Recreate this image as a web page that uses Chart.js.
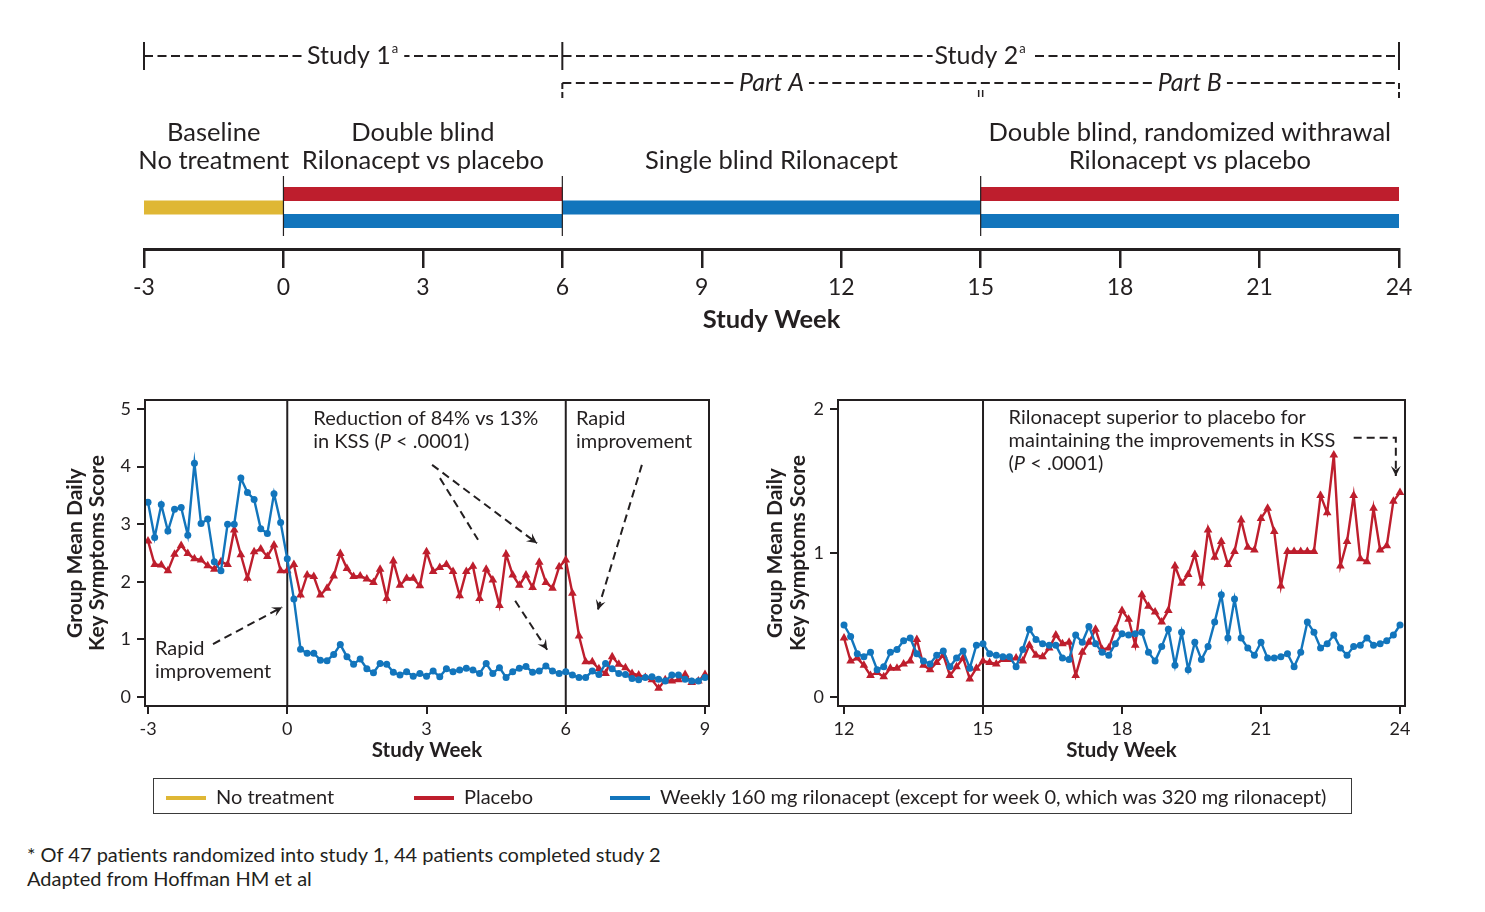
<!DOCTYPE html>
<html>
<head>
<meta charset="utf-8">
<script src="https://cdn.jsdelivr.net/npm/chart.js@4.4.1/dist/chart.umd.min.js"></script>
<style>
  body { margin: 0; background: #fff; width: 1485px; height: 912px; position: relative; overflow: hidden;
         font-family: Lato, "Noto Sans", sans-serif; color: #231f20; }
  .pane { position: absolute; }
  #legend { position: absolute; left: 153px; top: 778px; width: 1197px; height: 34px; border: 1.5px solid #3a3a3a; font-size: 20px; }
  #legend span { position: absolute; top: 0; line-height: 34px; white-space: nowrap; }
  #legend i { display: inline-block; width: 40px; height: 4px; vertical-align: middle; margin-right: 10px; position: relative; top: -1px; }
  #notes { position: absolute; left: 27px; top: 842px; font-size: 20px; line-height: 24px; }
</style>
</head>
<body>

<div class="pane" style="left:0;top:0"><canvas id="timeline" width="1485" height="345"></canvas></div>
<div class="pane" style="left:0;top:380px"><canvas id="chart-left" width="740" height="400"></canvas></div>
<div class="pane" style="left:720px;top:380px"><canvas id="chart-right" width="720" height="400"></canvas></div>

<div id="legend">
  <span style="left:12px"><i style="background:#dfb735"></i>No treatment</span>
  <span style="left:260px"><i style="background:#be1e2d"></i>Placebo</span>
  <span style="left:456px"><i style="background:#1275bc"></i>Weekly 160 mg rilonacept (except for week 0, which was 320 mg rilonacept)</span>
</div>

<div id="notes">
  * Of 47 patients randomized into study 1, 44 patients completed study 2<br>
  Adapted from Hoffman HM et al
</div>

<script>
const INK = '#231f20';
const RED = '#be1e2d';
const BLUE = '#1275bc';
const YELLOW = '#dfb735';

Chart.defaults.font.family = 'Lato, "Noto Sans", sans-serif';
Chart.defaults.color = INK;

/* ---------- timeline ---------- */
const timelineTicks = [-3, 0, 3, 6, 9, 12, 15, 18, 21, 24];
const phaseBounds = [-3, 0, 6, 15, 24];
const phaseLabels = [
  ['Baseline', 'No treatment'],
  ['Double blind', 'Rilonacept vs placebo'],
  ['Single blind Rilonacept'],
  ['Double blind, randomized withrawal', 'Rilonacept vs placebo']
];
const barStart = [-3, 0, 0, 6, 15, 15];
const barEnd   = [0, 6, 6, 15, 24, 24];
const barArm   = ['none', 'placebo', 'rilo', 'rilo', 'placebo', 'rilo'];

/* ---------- daily key symptom scores (weeks -3..9 and 12..24) ---------- */
const leftStartDay = -21;
const leftRilo = [
  3.38, 2.77, 3.34, 2.88, 3.26, 3.29, 2.81, 4.06, 3.01, 3.09, 2.35, 2.19, 3.00, 3.00, 3.80, 3.55, 3.43, 2.92, 2.84, 3.53, 3.03,
  2.40,
  1.70, 0.83, 0.76, 0.76, 0.64, 0.63, 0.74, 0.91, 0.70, 0.57, 0.66, 0.49, 0.42, 0.58, 0.57, 0.43, 0.38, 0.44, 0.36, 0.41, 0.36,
  0.45, 0.35, 0.49, 0.44, 0.47, 0.50, 0.47, 0.41, 0.58, 0.41, 0.51, 0.34, 0.44, 0.50, 0.53, 0.43, 0.45, 0.54, 0.45, 0.41, 0.44,
  0.38, 0.34, 0.34, 0.45, 0.39, 0.58, 0.49, 0.41, 0.39, 0.32, 0.30, 0.34, 0.35, 0.31, 0.28, 0.38, 0.38, 0.31, 0.28, 0.28, 0.34
];
const leftPlacebo = [
  2.71, 2.30, 2.29, 2.19, 2.48, 2.63, 2.49, 2.40, 2.38, 2.28, 2.22, 2.35, 2.30, 2.90, 2.47, 2.06, 2.52, 2.57, 2.44, 2.64, 2.19,
  2.19,
  2.30, 1.77, 2.12, 2.09, 1.77, 1.89, 2.10, 2.49, 2.23, 2.09, 2.10, 2.05, 1.99, 2.22, 1.71, 2.36, 1.94, 2.06, 2.06, 1.93,
  2.52, 2.18, 2.25, 2.30, 2.18, 1.76, 2.18, 2.27, 1.71, 2.22, 2.03, 1.59, 2.48, 2.12, 1.94, 2.12, 1.90, 2.34, 1.99, 1.89, 2.26,
  2.38, 1.80, 1.06, 0.61, 0.61, 0.49, 0.41, 0.70, 0.57, 0.51, 0.41, 0.38, 0.34, 0.30, 0.15, 0.30, 0.28, 0.30, 0.39, 0.25, 0.28, 0.39
];
const rightStartDay = 84;
const rightRilo = [
  0.50, 0.42, 0.30, 0.28, 0.31, 0.19, 0.21, 0.31, 0.33, 0.39, 0.41, 0.30, 0.25, 0.23, 0.29, 0.32, 0.21, 0.27, 0.32, 0.20, 0.36,
  0.37, 0.30, 0.29, 0.28, 0.28, 0.21, 0.33, 0.47, 0.40, 0.37, 0.36, 0.36, 0.27, 0.26, 0.43, 0.38, 0.49, 0.37, 0.31, 0.29, 0.37,
  0.44, 0.43, 0.44, 0.45, 0.31, 0.25, 0.35, 0.47, 0.22, 0.45, 0.19, 0.38, 0.26, 0.35, 0.52, 0.71, 0.41, 0.68, 0.41, 0.34, 0.29,
  0.38, 0.27, 0.27, 0.28, 0.30, 0.21, 0.31, 0.52, 0.45, 0.34, 0.37, 0.43, 0.34, 0.29, 0.35, 0.36, 0.41, 0.36, 0.37, 0.39, 0.43, 0.50
];
const rightPlacebo = [
  0.41, 0.25, 0.27, 0.22, 0.15, 0.17, 0.14, 0.20, 0.20, 0.23, 0.25, 0.40, 0.22, 0.19, 0.24, 0.29, 0.15, 0.21, 0.27, 0.125, 0.20,
  0.25, 0.24, 0.23, 0.26, 0.26, 0.27, 0.25, 0.36, 0.29, 0.28, 0.34, 0.43, 0.37, 0.38, 0.15, 0.31, 0.38, 0.47, 0.33, 0.34, 0.47,
  0.60, 0.54, 0.36, 0.71, 0.63, 0.59, 0.52, 0.60, 0.91, 0.79, 0.85, 0.99, 0.79, 1.16, 0.97, 1.08, 0.92, 1.01, 1.23, 1.04, 1.02,
  1.24, 1.31, 1.15, 0.77, 1.01, 1.01, 1.01, 1.01, 1.01, 1.40, 1.28, 1.68, 0.91, 1.08, 1.40, 0.96, 0.94, 1.31, 1.02, 1.05, 1.36, 1.42
];

const leftXTicks = [-3, 0, 3, 6, 9];
const leftYTicks = [0, 1, 2, 3, 4, 5];
const rightXTicks = [12, 15, 18, 21, 24];
const rightYTicks = [0, 1, 2];

/* ---------- helpers ---------- */
const FAM = 'Lato, "Noto Sans", sans-serif';

function toPoints(startDay, values) {
  return values.map((v, i) => ({ x: (startDay + i) / 7, y: v }));
}

function fixedTicks(list) {
  return axis => { axis.ticks = list.map(v => ({ value: v })); };
}

function hline(ctx, x1, x2, y, dash) {
  ctx.setLineDash(dash || []);
  ctx.beginPath(); ctx.moveTo(x1, y); ctx.lineTo(x2, y); ctx.stroke();
  ctx.setLineDash([]);
}
function vline(ctx, x, y1, y2, dash) {
  ctx.setLineDash(dash || []);
  ctx.beginPath(); ctx.moveTo(x, y1); ctx.lineTo(x, y2); ctx.stroke();
  ctx.setLineDash([]);
}

// text made of [string, italic] pieces
function richText(ctx, parts, x, y, size) {
  let cx = x;
  parts.forEach(([t, it]) => {
    ctx.font = (it ? 'italic ' : '') + size + 'px ' + FAM;
    ctx.fillText(t, cx, y);
    cx += ctx.measureText(t).width;
  });
}

function dashedArrow(ctx, pts, head) {
  ctx.setLineDash([8, 5]);
  ctx.beginPath();
  pts.forEach(([x, y], i) => i ? ctx.lineTo(x, y) : ctx.moveTo(x, y));
  ctx.stroke();
  ctx.setLineDash([]);
  if (!head) return;
  const [x1, y1] = pts[pts.length - 2];
  const [x2, y2] = pts[pts.length - 1];
  const a = Math.atan2(y2 - y1, x2 - x1);
  const L = 10, W = 5;
  ctx.beginPath();
  ctx.moveTo(x2, y2);
  ctx.lineTo(x2 - L * Math.cos(a) + W * Math.sin(a), y2 - L * Math.sin(a) - W * Math.cos(a));
  ctx.lineTo(x2 - 0.6 * L * Math.cos(a), y2 - 0.6 * L * Math.sin(a));
  ctx.lineTo(x2 - L * Math.cos(a) - W * Math.sin(a), y2 - L * Math.sin(a) + W * Math.cos(a));
  ctx.closePath();
  ctx.fill();
}

/* ---------- timeline chart ---------- */
function laneOf(i) {
  const shared = barStart.filter(s => s === barStart[i]).length > 1;
  if (!shared) return 1;
  return barArm[i] === 'placebo' ? 0 : 2;
}
const armColor = { none: YELLOW, placebo: RED, rilo: BLUE };

const timelineDecor = {
  id: 'timelineDecor',
  afterDatasetsDraw(chart) {
    const { ctx, scales: { x } } = chart;
    const px = v => x.getPixelForValue(v);
    const font = (s, extra) => (extra || '') + s + 'px ' + FAM;
    ctx.save();
    ctx.strokeStyle = INK;
    ctx.fillStyle = INK;

    // separators between phases
    ctx.lineWidth = 1.2;
    [0, 6, 15].forEach(w => vline(ctx, px(w), 176, 236));

    // study brackets
    ctx.lineWidth = 2;
    hline(ctx, px(-3), px(24), 56, [9, 4.5]);
    [-3, 6, 24].forEach(w => vline(ctx, px(w), 42, 70));
    hline(ctx, px(6), px(24), 83, [9, 4.5]);
    vline(ctx, px(6), 83, 98, [6, 3]);
    vline(ctx, px(24), 83, 98, [6, 3]);
    ctx.lineWidth = 1.5;
    vline(ctx, px(15) - 2, 90, 97);
    vline(ctx, px(15) + 2, 90, 97);

    ctx.textBaseline = 'middle';
    const bracketLabel = (txt, sup, w, y, italic) => {
      ctx.font = font(25, italic ? 'italic ' : '');
      const tw = ctx.measureText(txt).width;
      ctx.font = font(13);
      const sw = sup ? ctx.measureText(sup).width + 2 : 0;
      const left = px(w) - (tw + sw) / 2;
      ctx.fillStyle = '#fff';
      ctx.fillRect(left - 2, y - 14, tw + sw + 7, 28);
      ctx.fillStyle = INK;
      ctx.font = font(25, italic ? 'italic ' : '');
      ctx.textAlign = 'left';
      ctx.fillText(txt, left, y);
      if (sup) { ctx.font = font(13); ctx.fillText(sup, left + tw + 1, y - 7); }
    };
    bracketLabel('Study 1', 'a', 1.5, 56);
    bracketLabel('Study 2', 'a', 15, 56);
    bracketLabel('Part A', '', 10.5, 83, true);
    bracketLabel('Part B', '', 19.5, 83, true);

    // phase labels
    ctx.font = font(25.5);
    ctx.textAlign = 'center';
    phaseLabels.forEach((lines, i) => {
      const cx = px((phaseBounds[i] + phaseBounds[i + 1]) / 2);
      const y0 = 161 - 28 * (lines.length - 1);
      lines.forEach((l, k) => ctx.fillText(l, cx, y0 + 28 * k));
    });
    ctx.restore();
  }
};

new Chart(document.getElementById('timeline'), {
  type: 'line',
  data: {
    datasets: barStart.map((s, i) => ({
      label: barArm[i],
      data: [{ x: s, y: laneOf(i) }, { x: barEnd[i], y: laneOf(i) }],
      borderColor: armColor[barArm[i]],
      borderWidth: 14,
      borderCapStyle: 'butt',
      pointRadius: 0
    }))
  },
  options: {
    animation: false,
    responsive: false,
    events: [],
    layout: { padding: { left: 144, right: 86, top: 20, bottom: 6 } },
    plugins: { legend: { display: false }, tooltip: { enabled: false } },
    scales: {
      x: {
        type: 'linear', min: -3, max: 24,
        afterBuildTicks: fixedTicks(timelineTicks),
        afterFit: a => { a.height = 90; },
        ticks: { font: { size: 23 }, color: INK, padding: 6 },
        grid: { drawOnChartArea: false, tickLength: 19, color: INK, lineWidth: 2.5 },
        border: { color: INK, width: 3 },
        title: { display: true, text: 'Study Week', color: INK, font: { size: 25.5, weight: 'bold' }, padding: { top: 0, bottom: 4 } }
      },
      y: { display: false, reverse: true, min: -12.9, max: 4.07 }
    }
  },
  plugins: [timelineDecor]
});

/* ---------- score panels ---------- */
function panelDecor(cfg) {
  return {
    id: 'panelDecor',
    beforeDatasetsDraw(chart) {
      const { ctx, chartArea: a, scales: { x } } = chart;
      ctx.save();
      ctx.strokeStyle = INK;
      ctx.lineWidth = 2;
      cfg.vLines.forEach(w => vline(ctx, x.getPixelForValue(w), a.top, a.bottom));
      ctx.restore();
    },
    afterDatasetsDraw(chart) {
      const { ctx, chartArea: a, scales: { x, y } } = chart;
      ctx.save();
      ctx.strokeStyle = INK;
      ctx.fillStyle = INK;
      ctx.lineWidth = 2;
      ctx.strokeRect(a.left, a.top, a.right - a.left, a.bottom - a.top);

      ctx.textBaseline = 'middle';
      ctx.textAlign = 'left';
      cfg.notes.forEach(n => {
        const x0 = x.getPixelForValue(n.x), y0 = y.getPixelForValue(n.y);
        n.lines.forEach((parts, k) => richText(ctx, parts, x0, y0 + 23 * k, 20));
      });
      cfg.arrows.forEach(ar => dashedArrow(ctx, ar.pts.map(([px, py]) => [x.getPixelForValue(px), y.getPixelForValue(py)]), ar.head));

      // two-line y title
      ctx.font = 'bold 21px ' + FAM;
      ctx.textAlign = 'center';
      const cy = (a.top + a.bottom) / 2;
      ['Group Mean Daily', 'Key Symptoms Score'].forEach((t, k) => {
        ctx.save();
        ctx.translate(a.left + cfg.titleOffsets[k], cy);
        ctx.rotate(-Math.PI / 2);
        ctx.fillText(t, 0, 0);
        ctx.restore();
      });
      ctx.restore();
    }
  };
}

function panel(id, cfg) {
  const axisCommon = {
    type: 'linear',
    grid: { drawOnChartArea: false, tickLength: 8, color: INK, lineWidth: 2 },
    border: { color: INK, width: 2 },
  };
  new Chart(document.getElementById(id), {
    type: 'line',
    data: {
      datasets: [
        { label: 'Rilonacept', data: toPoints(cfg.startDay, cfg.rilo), borderColor: BLUE, backgroundColor: BLUE,
          borderWidth: 2.4, pointStyle: 'circle', pointRadius: 3.5, pointBorderWidth: 0 },
        { label: 'Placebo', data: toPoints(cfg.startDay, cfg.placebo), borderColor: RED, backgroundColor: RED,
          borderWidth: 2.4, pointStyle: 'triangle', pointRadius: 5, pointBorderWidth: 0 }
      ]
    },
    options: {
      animation: false,
      responsive: false,
      events: [],
      layout: { padding: cfg.padding },
      plugins: { legend: { display: false }, tooltip: { enabled: false } },
      scales: {
        x: Object.assign({}, axisCommon, {
          min: cfg.xMin, max: cfg.xMax,
          afterBuildTicks: fixedTicks(cfg.xTicks),
          afterFit: a => { a.height = 60; },
          ticks: { font: { size: 18 }, color: INK, padding: 4 },
          title: { display: true, text: 'Study Week', color: INK, font: { size: 20.5, weight: 'bold' }, padding: { top: 0, bottom: 3 } }
        }),
        y: Object.assign({}, axisCommon, {
          min: cfg.yMin, max: cfg.yMax,
          afterBuildTicks: fixedTicks(cfg.yTicks),
          afterFit: a => { a.width = 95; },
          ticks: { font: { size: 18 }, color: INK, padding: 6 }
        })
      }
    },
    plugins: [panelDecor(cfg)]
  });
}

panel('chart-left', {
  startDay: leftStartDay, rilo: leftRilo, placebo: leftPlacebo,
  xMin: -3.065, xMax: 9.086, yMin: -0.156, yMax: 5.156,
  xTicks: leftXTicks, yTicks: leftYTicks,
  padding: { left: 50, right: 31, top: 20, bottom: 14 },
  vLines: [0, 6],
  titleOffsets: [-70, -48],
  notes: [
    { x: 0.56, y: 4.84, lines: [[['Reduction of 84% vs 13%']], [['in KSS ('], ['P', 1], [' < .0001)']]] },
    { x: 6.22, y: 4.84, lines: [[['Rapid']], [['improvement']]] },
    { x: -2.85, y: 0.85, lines: [[['Rapid']], [['improvement']]] }
  ],
  arrows: [
    { pts: [[3.12, 4.03], [5.38, 2.67]], head: true },
    { pts: [[3.29, 3.80], [4.11, 2.73]], head: false },
    { pts: [[4.91, 1.67], [5.60, 0.82]], head: true },
    { pts: [[7.64, 4.03], [6.69, 1.51]], head: true },
    { pts: [[-1.60, 0.92], [-0.11, 1.56]], head: true }
  ]
});

panel('chart-right', {
  startDay: rightStartDay, rilo: rightRilo, placebo: rightPlacebo,
  xMin: 11.87, xMax: 24.108, yMin: -0.0625, yMax: 2.0625,
  xTicks: rightXTicks, yTicks: rightYTicks,
  padding: { left: 23, right: 35, top: 20, bottom: 14 },
  vLines: [15],
  titleOffsets: [-63, -40],
  notes: [
    { x: 15.55, y: 1.9375, lines: [[['Rilonacept superior to placebo for']], [['maintaining the improvements in KSS']], [['('], ['P', 1], [' < .0001)']]] }
  ],
  arrows: [
    { pts: [[23.0, 1.80], [23.91, 1.80], [23.91, 1.535]], head: true }
  ]
});
</script>
</body>
</html>
